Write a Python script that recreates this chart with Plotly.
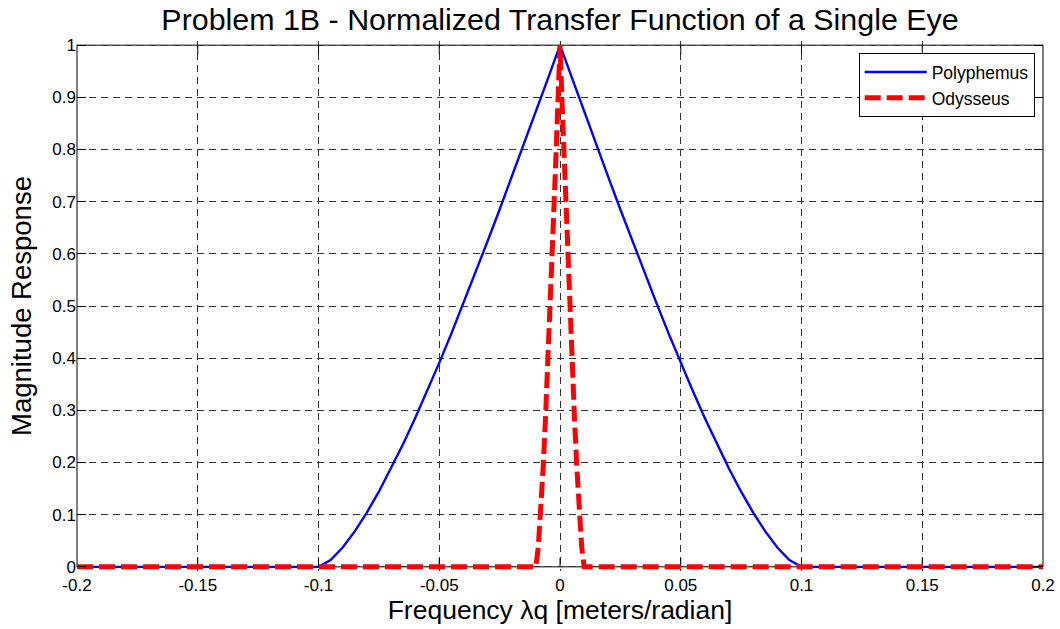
import plotly.graph_objects as go

# Spatial frequency axis (meters/radian) and normalized magnitude of each eye's transfer function
poly_freq = [-0.2, -0.1, -0.095, -0.09, -0.085, -0.08, -0.075, -0.07, -0.065, -0.06, -0.055,
             -0.05, -0.045, -0.04, -0.035, -0.03, -0.025, -0.02, -0.015, -0.01, -0.005,
             0.0, 0.005, 0.01, 0.015, 0.02, 0.025, 0.03, 0.035, 0.04, 0.045, 0.05,
             0.055, 0.06, 0.065, 0.07, 0.075, 0.08, 0.085, 0.09, 0.095, 0.1, 0.2]
poly_mag = [0.0, 0.0, 0.013, 0.037, 0.068, 0.104, 0.144, 0.188, 0.235, 0.285, 0.337,
            0.391, 0.447, 0.505, 0.564, 0.624, 0.685, 0.747, 0.810, 0.873, 0.936,
            1.0, 0.936, 0.873, 0.810, 0.747, 0.685, 0.624, 0.564, 0.505, 0.447, 0.391,
            0.337, 0.285, 0.235, 0.188, 0.144, 0.104, 0.068, 0.037, 0.013, 0.0, 0.0]

odys_freq = [-0.2, -0.01, -0.009, -0.008, -0.007, -0.006, -0.005, -0.004, -0.003, -0.002, -0.001,
             0.0, 0.001, 0.002, 0.003, 0.004, 0.005, 0.006, 0.007, 0.008, 0.009, 0.01, 0.2]
odys_mag = [0.0, 0.0, 0.037, 0.104, 0.188, 0.285, 0.391, 0.505, 0.624, 0.747, 0.873,
            1.0, 0.873, 0.747, 0.624, 0.505, 0.391, 0.285, 0.188, 0.104, 0.037, 0.0, 0.0]

x_ticks = [-0.2, -0.15, -0.1, -0.05, 0.0, 0.05, 0.1, 0.15, 0.2]
x_tick_text = ["-0.2", "-0.15", "-0.1", "-0.05", "0", "0.05", "0.1", "0.15", "0.2"]
y_ticks = [0.0, 0.1, 0.2, 0.3, 0.4, 0.5, 0.6, 0.7, 0.8, 0.9, 1.0]
y_tick_text = ["0", "0.1", "0.2", "0.3", "0.4", "0.5", "0.6", "0.7", "0.8", "0.9", "1"]

FONT = "Arial, Liberation Sans, sans-serif"
W, H = 1060, 629
AX_L, AX_R, AX_T, AX_B = 77.3, 1043.3, 45.0, 567.0  # axes box edges in pixels
PAD = 0.008  # small headroom so thick lines on y=0 are not clipped

px_per_unit = (AX_B - AX_T)
pad_px = PAD * px_per_unit

fig = go.Figure()
fig.add_trace(go.Scatter(
    x=poly_freq, y=poly_mag, mode="lines", name="Polyphemus",
    line=dict(color="#0000ff", width=2.4),
))
fig.add_trace(go.Scatter(
    x=odys_freq, y=odys_mag, mode="lines", name="Odysseus",
    line=dict(color="#ff0000", width=5, dash="16px,6px"),
))

grid = dict(showgrid=True, gridcolor="#333333", gridwidth=1, griddash="7px,5px")

fig.update_xaxes(
    range=[-0.2, 0.2], tickvals=x_ticks, ticktext=x_tick_text,
    zeroline=False, showline=False, ticks="", automargin=False,
    ticklabelstandoff=2,
    tickfont=dict(family=FONT, size=17, color="black"),
    title=dict(text="Frequency \u03bbq [meters/radian]",
               font=dict(family=FONT, size=26.5, color="black"), standoff=6),
    **grid,
)
fig.update_yaxes(
    range=[-PAD, 1 + PAD], tickvals=y_ticks, ticktext=y_tick_text,
    zeroline=False, showline=False, ticks="inside", ticklen=9,
    tickcolor="black", mirror="ticks", automargin=False,
    tickfont=dict(family=FONT, size=17, color="black"),
    title=dict(text="Magnitude Response",
               font=dict(family=FONT, size=27.5, color="black"), standoff=12),
    **grid,
)

shapes = [dict(type="rect", xref="paper", yref="y", x0=0, x1=1, y0=0, y1=1,
               line=dict(color="black", width=1), layer="between")]
tick_h = 9 / px_per_unit
for v in x_ticks[1:-1]:
    shapes.append(dict(type="line", xref="x", yref="y", x0=v, x1=v, y0=0, y1=tick_h,
                       line=dict(color="black", width=1), layer="between"))
    shapes.append(dict(type="line", xref="x", yref="y", x0=v, x1=v, y0=1 - tick_h, y1=1,
                       line=dict(color="black", width=1), layer="between"))

fig.update_layout(
    width=W, height=H,
    margin=dict(l=AX_L, r=W - AX_R, t=AX_T - pad_px, b=H - AX_B - pad_px, autoexpand=False),
    paper_bgcolor="white", plot_bgcolor="white",
    font=dict(family=FONT, color="black"),
    title=dict(text="Problem 1B - Normalized Transfer Function of a Single Eye",
               font=dict(family=FONT, size=30.4, color="black"),
               x=0.5, xref="paper", xanchor="center",
               y=1 - 19 / H, yref="container", yanchor="middle"),
    shapes=shapes,
    legend=dict(x=(1035 - AX_L) / (AX_R - AX_L), y=1 - (53 - AX_T + pad_px) / (AX_B - AX_T + 2 * pad_px),
                xanchor="right", yanchor="top",
                bgcolor="white", bordercolor="black", borderwidth=1,
                font=dict(family=FONT, size=17.5, color="black"),
                tracegroupgap=0, itemwidth=62),
    showlegend=True,
)

fig.write_html("out.html")
